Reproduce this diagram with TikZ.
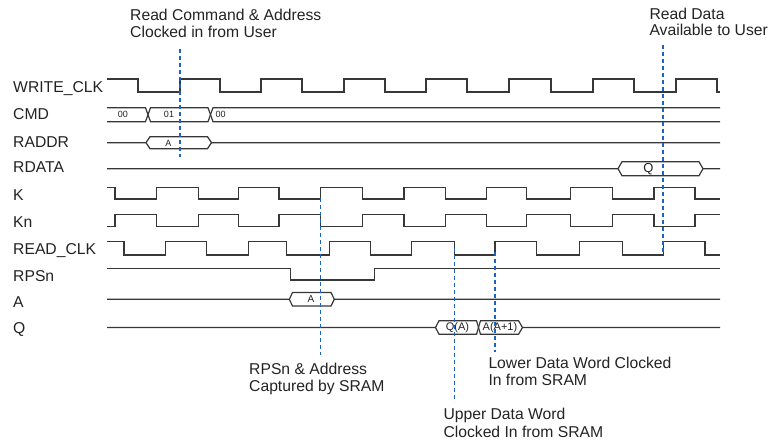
\documentclass[tikz,border=0pt]{standalone}
\usepackage{fontspec}
\setmainfont{Liberation Sans}
\definecolor{sigc}{RGB}{55,55,55}
\definecolor{markc}{RGB}{30,100,190}
\definecolor{txtc}{RGB}{35,35,35}
\tikzset{
  sig/.style={draw=sigc, line width=1.2pt, line join=miter},
  markline/.style={draw=markc, line width=1.3pt, dash pattern=on 4pt off 3pt},
  sname/.style={anchor=base west, inner sep=0pt, text=txtc,
    font=\fontsize{15.7}{17}\selectfont},
  bustxt/.style={inner sep=0pt, text=txtc, font=\fontsize{9}{10}\selectfont},
}
\begin{document}
\begin{tikzpicture}[x=1pt,y=-1pt]
\useasboundingbox (0,0) rectangle (774,443);

% signal names
\node[sname] (nwclk)  at (13,92.3)  {WRITE\_CLK};
\node[sname] (ncmd)   at (13,119.3) {CMD};
\node[sname] (nraddr) at (13,147.3) {RADDR};
\node[sname] (nrdata) at (13,173)   {RDATA};
\node[sname] (nk)     at (13,200.7) {K};
\node[sname] (nkn)    at (13,227.7) {Kn};
\node[sname] (nrclk)  at (13,255)   {READ\_CLK};
\node[sname] (nrpsn)  at (13,281.7) {RPSn};
\node[sname] (na)     at (13,307.3) {A};
\node[sname] (nq)     at (13,334)   {Q};

% WRITE_CLK
\draw[sig] (107,79) -| (138,92) -| (180,79) -| (220,92) -| (261,79) -| (302,92)
  -| (344,79) -| (385,92) -| (426,79) -| (467,92) -| (509,79) -| (551,92)
  -| (593,79) -| (634,92) -| (676,79) -| (717,92) -- (720,92);

% CMD bus
\draw[sig] (107,107.7) -- (145.5,107.7) -- (150.5,121.7) -- (208,121.7) -- (213,107.7) -- (720,107.7);
\draw[sig] (107,121.7) -- (145.5,121.7) -- (150.5,107.7) -- (208,107.7) -- (213,121.7) -- (720,121.7);
\node[bustxt] (cmd0) at (123,114.7) {00};
\node[bustxt] (cmd1) at (169,114.7) {01};
\node[bustxt, anchor=west] (cmd2) at (215.5,114.7) {00};

% RADDR
\draw[sig] (107,142.7) -- (146,142.7) -- (150,136.7) -- (207.5,136.7) -- (211.5,142.7) -- (720,142.7);
\draw[sig] (146,142.7) -- (150,148.7) -- (207.5,148.7) -- (211.5,142.7);
\node[bustxt] (raddr) at (168.5,143) {A};

% RDATA
\draw[sig] (107,168.7) -- (618,168.7) -- (622,161.7) -- (699,161.7) -- (703,168.7) -- (720,168.7);
\draw[sig] (618,168.7) -- (622,175.7) -- (699,175.7) -- (703,168.7);
\node[bustxt, font=\fontsize{13}{14}\selectfont] (rdata) at (648.5,169) {Q};

% K
\draw[sig] (107,187.3) -| (115,199) -| (156.7,187.3) -| (198.3,199) -| (238.3,187.3)
  -| (279,199) -| (320.5,187.3) -| (362.5,199) -| (404,187.3) -| (445.5,199)
  -| (486.5,187.3) -| (526.7,199) -| (570.3,187.3) -| (612.7,199) -| (654,187.3)
  -| (695,199) -- (720,199);

% Kn
\draw[sig] (107,226.7) -| (115,214.3) -| (156.7,226.7) -| (198.3,214.3) -| (238.3,226.7)
  -| (279,214.3) -| (320.5,226.7) -| (362.5,214.3) -| (404,226.7) -| (445.5,214.3)
  -| (486.5,226.7) -| (526.7,214.3) -| (570.3,226.7) -| (612.7,214.3) -| (654,226.7)
  -| (695,214.3) -- (720,214.3);

% READ_CLK
\draw[sig] (107,241.7) -| (124,255) -| (165.7,241.7) -| (206.7,255) -| (248.3,241.7)
  -| (286.7,255) -| (329.3,241.7) -| (370.7,255) -| (411.7,241.7) -| (454.5,255)
  -| (495,241.7) -| (536.7,255) -| (579.3,241.7) -| (622.7,255) -| (663.3,241.7)
  -| (705,255) -- (720,255);

% RPSn
\draw[sig] (107,268.3) -| (290.7,280) -| (374.3,268.3) -- (720,268.3);

% A
\draw[sig] (107,299.3) -- (289.3,299.3) -- (292.5,292.5) -- (331,292.5) -- (334.3,299.3) -- (720,299.3);
\draw[sig] (289.3,299.3) -- (292.5,306) -- (331,306) -- (334.3,299.3);
\node[bustxt, font=\fontsize{10}{11}\selectfont] (aval) at (311,299.5) {A};

% Q
\draw[sig] (107,327.5) -- (435.5,327.5) -- (439,320.7) -- (476.5,320.7) -- (480.5,334.3)
  -- (518.5,334.3) -- (522.5,327.5) -- (720,327.5);
\draw[sig] (435.5,327.5) -- (439,334.3) -- (476.5,334.3) -- (480.5,320.7)
  -- (518.5,320.7) -- (522.5,327.5);
\node[bustxt, font=\fontsize{11}{12}\selectfont] (q0) at (457.5,327.7) {Q(A)};
\node[bustxt, font=\fontsize{11}{12}\selectfont] (q1) at (500,327.7) {A(A+1)};

% event markers
\coordinate (m1t) at (180,49);    \coordinate (m1b) at (180,157);
\coordinate (m2t) at (320.5,198); \coordinate (m2b) at (320.5,355);
\coordinate (m3t) at (454.5,248); \coordinate (m3b) at (454.5,402);
\coordinate (m4t) at (495,252);   \coordinate (m4b) at (495,352);
\coordinate (m5t) at (663,45);    \coordinate (m5b) at (663,255);
\draw[markline] (m1t) -- (m1b);
\draw[markline] (m2t) -- (m2b);
\draw[markline] (m3t) -- (m3b);
\draw[markline] (m4t) -- (m4b);
\draw[markline] (m5t) -- (m5b);

% annotations
\node[sname] (n1a) at (130,20.7)   {Read Command \& Address};
\node[sname] (n1b) at (130,37.7)   {Clocked in from User};
\node[sname] (n5a) at (649.3,19.3) {Read Data};
\node[sname] (n5b) at (649.3,36)   {Available to User};
\node[sname] (n2a) at (249,375)    {RPSn \& Address};
\node[sname] (n2b) at (249,392)    {Captured by SRAM};
\node[sname] (n4a) at (488.3,368.3) {Lower Data Word Clocked};
\node[sname] (n4b) at (488.3,386)   {In from SRAM};
\node[sname] (n3a) at (443.3,419.3) {Upper Data Word};
\node[sname] (n3b) at (443.3,437.3) {Clocked In from SRAM};
\end{tikzpicture}
\end{document}
